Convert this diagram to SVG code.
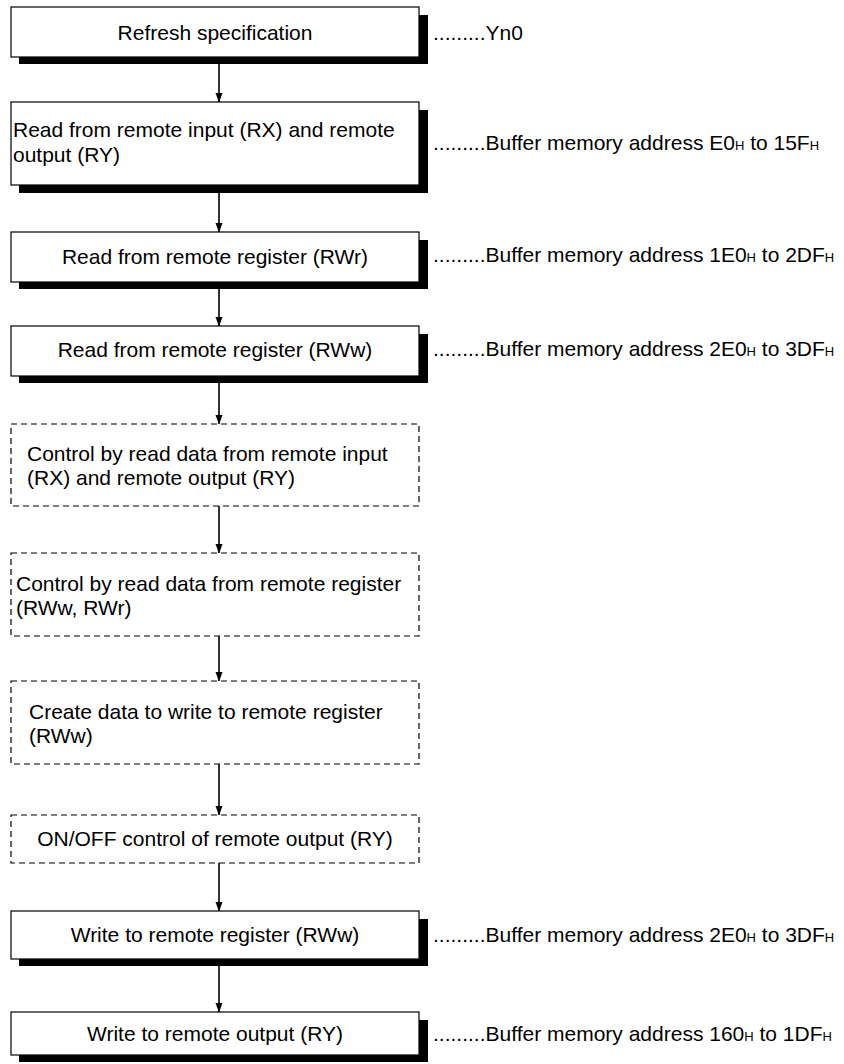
<svg xmlns="http://www.w3.org/2000/svg" width="844" height="1064" viewBox="0 0 844 1064">
<defs>
<style>
.box{fill:#fff;stroke:#000;stroke-width:1.2}
.shadow{fill:#000}
.dash{fill:#fff;stroke:#000;stroke-width:1.2;stroke-dasharray:6 4}
text{font-family:"Liberation Sans",Arial,sans-serif;font-size:21px;fill:#000}
.c{text-anchor:middle}
.sub{font-size:13px}
.conn{stroke:#000;stroke-width:1.6;fill:none;marker-end:url(#ah)}
</style>
<marker id="ah" markerWidth="10" markerHeight="14" refX="13" refY="5" orient="auto" markerUnits="userSpaceOnUse" viewBox="0 0 14 10">
<path d="M0,0 L14,5 L0,10 Z" fill="#000"/>
</marker>
</defs>
<rect width="844" height="1064" fill="#fff"/>
<g id="connectors">
<line class="conn" x1="219" y1="64" x2="219" y2="102"/>
<line class="conn" x1="219" y1="193" x2="219" y2="232"/>
<line class="conn" x1="219" y1="289" x2="219" y2="326"/>
<line class="conn" x1="219" y1="383" x2="219" y2="424"/>
<line class="conn" x1="219" y1="506" x2="219" y2="553"/>
<line class="conn" x1="219" y1="636" x2="219" y2="681"/>
<line class="conn" x1="219" y1="764" x2="219" y2="815"/>
<line class="conn" x1="219" y1="863" x2="219" y2="911"/>
<line class="conn" x1="219" y1="966" x2="219" y2="1012"/>
</g>
<g id="n1">
<rect class="shadow" x="19" y="15" width="409" height="49"/>
<rect class="box" x="11" y="7" width="408" height="50"/>
<text class="c" x="215" y="40">Refresh specification</text>
<text x="433" y="40">.........Yn0</text>
</g>
<g id="n2">
<rect class="shadow" x="19" y="110" width="409" height="83"/>
<rect class="box" x="11" y="102" width="408" height="83"/>
<text x="13" y="137">Read from remote input (RX) and remote</text>
<text x="13" y="162">output (RY)</text>
<text x="433" y="150">.........Buffer memory address E0<tspan class="sub">H</tspan> to 15F<tspan class="sub">H</tspan></text>
</g>
<g id="n3">
<rect class="shadow" x="19" y="240" width="409" height="49"/>
<rect class="box" x="11" y="232" width="408" height="50"/>
<text class="c" x="215" y="264">Read from remote register (RWr)</text>
<text x="433" y="262">.........Buffer memory address 1E0<tspan class="sub">H</tspan> to 2DF<tspan class="sub">H</tspan></text>
</g>
<g id="n4">
<rect class="shadow" x="19" y="334" width="409" height="49"/>
<rect class="box" x="11" y="326" width="408" height="50"/>
<text class="c" x="215" y="357">Read from remote register (RWw)</text>
<text x="433" y="356">.........Buffer memory address 2E0<tspan class="sub">H</tspan> to 3DF<tspan class="sub">H</tspan></text>
</g>
<g id="n5">
<rect class="dash" x="11" y="424" width="408" height="82"/>
<text x="27" y="461">Control by read data from remote input</text>
<text x="27" y="485">(RX) and remote output (RY)</text>
</g>
<g id="n6">
<rect class="dash" x="11" y="553" width="408" height="83"/>
<text x="16" y="591">Control by read data from remote register</text>
<text x="16" y="615">(RWw, RWr)</text>
</g>
<g id="n7">
<rect class="dash" x="11" y="681" width="408" height="83"/>
<text x="29" y="719">Create data to write to remote register</text>
<text x="29" y="743">(RWw)</text>
</g>
<g id="n8">
<rect class="dash" x="11" y="815" width="408" height="48"/>
<text class="c" x="215" y="846">ON/OFF control of remote output (RY)</text>
</g>
<g id="n9">
<rect class="shadow" x="19" y="919" width="409" height="47"/>
<rect class="box" x="11" y="911" width="408" height="48"/>
<text class="c" x="215" y="942">Write to remote register (RWw)</text>
<text x="433" y="942">.........Buffer memory address 2E0<tspan class="sub">H</tspan> to 3DF<tspan class="sub">H</tspan></text>
</g>
<g id="n10">
<rect class="shadow" x="19" y="1020" width="409" height="42"/>
<rect class="box" x="11" y="1012" width="408" height="43"/>
<text class="c" x="215" y="1041">Write to remote output (RY)</text>
<text x="433" y="1041">.........Buffer memory address 160<tspan class="sub">H</tspan> to 1DF<tspan class="sub">H</tspan></text>
</g>
</svg>
